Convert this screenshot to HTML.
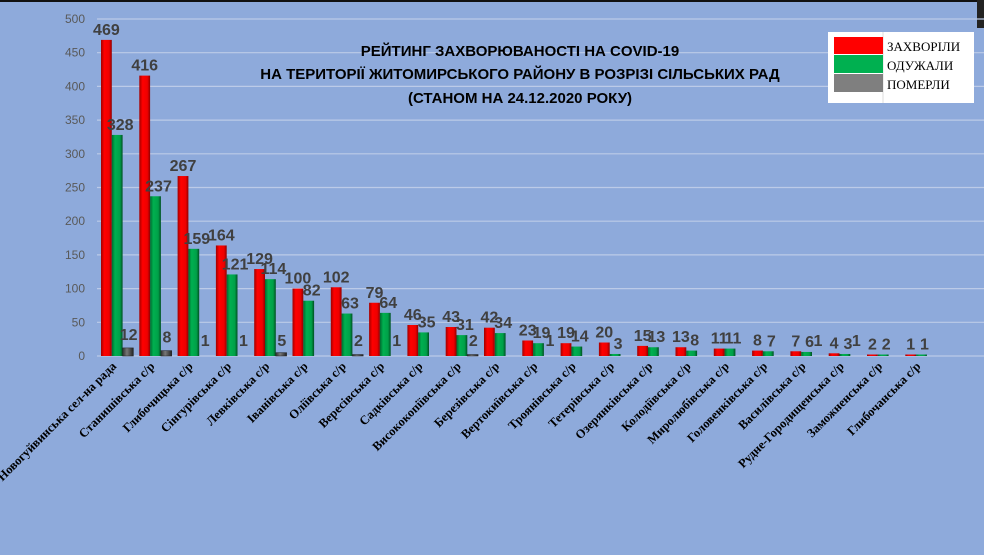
<!DOCTYPE html>
<html><head><meta charset="utf-8"><style>
html,body{margin:0;padding:0;background:#8eaadb;}
svg{display:block;}
</style></head><body>
<svg id="s" width="984" height="555" xmlns="http://www.w3.org/2000/svg">
<defs>
<linearGradient id="gr" x1="0" x2="1" y1="0" y2="0"><stop offset="0" stop-color="#a00000"/><stop offset="0.3" stop-color="#ff0000"/><stop offset="0.75" stop-color="#ee0000"/><stop offset="1" stop-color="#900000"/></linearGradient>
<linearGradient id="gg" x1="0" x2="1" y1="0" y2="0"><stop offset="0" stop-color="#006a2e"/><stop offset="0.3" stop-color="#00b050"/><stop offset="0.75" stop-color="#00a048"/><stop offset="1" stop-color="#004f22"/></linearGradient>
<linearGradient id="gk" x1="0" x2="1" y1="0" y2="0"><stop offset="0" stop-color="#303030"/><stop offset="0.4" stop-color="#777"/><stop offset="1" stop-color="#222"/></linearGradient>
</defs>
<rect x="0" y="0" width="984" height="555" fill="#8eaadb"/>
<rect x="0" y="0" width="984" height="2" fill="#111"/>
<rect x="977" y="0" width="7" height="28" fill="#222"/>
<g id="grid"></g>
<g id="bars"></g>
<g font-family="Liberation Sans, sans-serif" font-weight="bold" font-size="15" fill="#000" text-anchor="middle">
<text x="520" y="56">РЕЙТИНГ ЗАХВОРЮВАНОСТІ НА COVID-19</text>
<text x="520" y="79">НА ТЕРИТОРІЇ ЖИТОМИРСЬКОГО РАЙОНУ В РОЗРІЗІ СІЛЬСЬКИХ РАД</text>
<text x="520" y="103">(СТАНОМ НА 24.12.2020 РОКУ)</text>
</g>
<g>
<rect x="828" y="32" width="146" height="71" fill="#fff"/>
<line x1="883" y1="32" x2="883" y2="103" stroke="#ddd"/>
<rect x="834" y="37" width="49" height="17" fill="#ff0000"/>
<rect x="834" y="55" width="49" height="18" fill="#00b050"/>
<rect x="834" y="74" width="49" height="18" fill="#7f7f7f"/>
<g font-family="Liberation Serif, serif" font-size="13" fill="#000">
<text x="887" y="51">ЗАХВОРІЛИ</text>
<text x="887" y="70">ОДУЖАЛИ</text>
<text x="887" y="89">ПОМЕРЛИ</text>
</g>
</g>
</svg>
<script>
var d=[["Новогуйвинська сел-на рада",469,328,12],["Станишівська с/р",416,237,8],["Глибочицька с/р",267,159,1],["Сінгурівська с/р",164,121,1],["Левківська с/р",129,114,5],["Іванівська с/р",100,82,null],["Оліївська с/р",102,63,2],["Вересівська с/р",79,64,1],["Садківська с/р",46,35,null],["Висококопіївська с/р",43,31,2],["Березівська с/р",42,34,null],["Вертокиївська с/р",23,19,1],["Троянівська с/р",19,14,null],["Тетерівська с/р",20,3,null],["Озерянківська с/р",15,13,null],["Колодіївська с/р",13,8,null],["Миролюбівська с/р",11,11,null],["Головенківська с/р",8,7,null],["Василівська с/р",7,6,1],["Рудне-Городищенська с/р",4,3,1],["Заможненська с/р",2,2,null],["Глибочанська с/р",1,1,null]];
var NS="http://www.w3.org/2000/svg";
function el(t,a,p,txt){var e=document.createElementNS(NS,t);for(var k in a)e.setAttribute(k,a[k]);if(txt!=null)e.textContent=txt;p.appendChild(e);return e;}
var g=document.getElementById("grid"),b=document.getElementById("bars");
var y0=356,sc=0.674;
for(var v=0;v<=500;v+=50){var y=y0-v*sc;
 el("line",{x1:97,x2:984,y1:y,y2:y,stroke:"#bccbe8","stroke-width":1.2},g);
 el("text",{x:85,y:y+4,"text-anchor":"end","font-family":"Liberation Sans, sans-serif","font-size":12,fill:"#595959"},g,v);}
var lab={"font-family":"Liberation Sans, sans-serif","font-weight":"bold","font-size":16,fill:"#404040","text-anchor":"middle"};
d.forEach(function(r,i){
 var x=101+38.3*i,w=10.8;
 var vals=[r[1],r[2],r[3]],fills=["url(#gr)","url(#gg)","url(#gk)"];
 for(var j=0;j<3;j++){var v=vals[j];if(v==null)continue;var h=Math.max(v*sc,1.5);
  if(!(j==2&&v<2))el("rect",{x:x+j*w,y:y0-h,width:w,height:h,fill:fills[j],stroke:j==2?"#222":"none","stroke-width":0.5},b);
  var a=Object.assign({},lab);
  if(j<2){a.x=x+j*w+w/2+(j==1?3:0);a.y=y0-h-5;if(j==1&&r[1]-r[2]<25){a.y=Math.min(a.y,y0-r[1]*sc+12);} }
  else{a.x=x+2*w+6;a.y=y0-(v>5?v*sc+8:10);}
  el("text",a,b,v);}
 var cx=x+16;
 el("text",{transform:"translate("+cx+","+(y0+11)+") rotate(-45)","text-anchor":"end","font-family":"Liberation Serif, serif","font-weight":"bold","font-size":12.5,fill:"#000"},b,r[0]);
});
</script>
</body></html>
